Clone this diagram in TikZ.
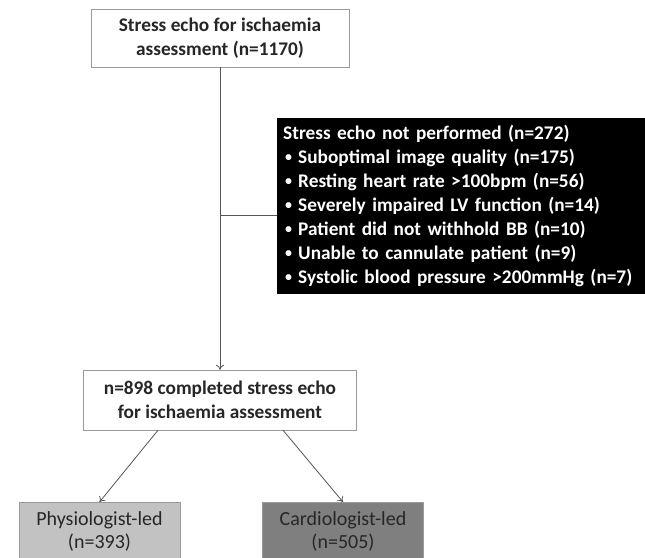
\documentclass[tikz,border=0pt]{standalone}
\usepackage{fontspec}
\setmainfont{Carlito}
\usetikzlibrary{arrows.meta}
\definecolor{boxline}{HTML}{9A9A9A}
\definecolor{linegray}{HTML}{555555}
\definecolor{physiofill}{HTML}{C2C2C2}
\definecolor{cardiofill}{HTML}{7F7F7F}
\newcommand{\exclitem}{\makebox[15pt][l]{\hspace{2pt}\raisebox{1.6pt}{\fontsize{14}{14}\selectfont\textbullet}}}
\begin{document}
\begin{tikzpicture}[x=1pt,y=-1pt,
  flowbox/.style={draw=boxline, fill=white, align=center, inner sep=0pt,
    font=\bfseries\fontsize{19.3}{24}\selectfont, text=black!85},
  exclbox/.style={fill=black, text=white, align=left, text width=366pt,
    inner xsep=6pt, inner ysep=7pt, font=\bfseries\fontsize{19.3}{24}\selectfont},
  groupbox/.style={draw=boxline, align=center, inner sep=0pt,
    minimum width=161pt, minimum height=58pt,
    font=\fontsize{20}{23}\selectfont, text=black!85},
  link/.style={draw=linegray, line width=0.8pt},
  flowarrow/.style={link, -{To[length=5pt,width=8pt]}}]
\clip (0,0) rectangle (645,557);
\fill[white] (0,0) rectangle (645,557);
% boxes
\node[flowbox, minimum width=258pt, minimum height=58pt] (screen) at (220,38)
  {Stress echo for ischaemia\\assessment (n=1170)};
\node[exclbox, anchor=north west] (excl) at (277,118)
  {Stress echo not performed (n=272)\\
   \exclitem Suboptimal image quality (n=175)\\
   \exclitem Resting heart rate >100bpm (n=56)\\
   \exclitem Severely impaired LV function (n=14)\\
   \exclitem Patient did not withhold BB (n=10)\\
   \exclitem Unable to cannulate patient (n=9)\\
   \exclitem Systolic blood pressure >200mmHg (n=7)};
\node[flowbox, minimum width=273pt, minimum height=60pt] (done) at (220,400)
  {n=898 completed stress echo\\for ischaemia assessment};
\node[groupbox, fill=physiofill, anchor=north] (physio) at (99.5,502)
  {Physiologist-led\\(n=393)};
\node[groupbox, fill=cardiofill, anchor=north] (cardio) at (343,502)
  {Cardiologist-led\\(n=505)};
% connectors
\coordinate (branch) at (220,215);
\draw[flowarrow] (screen.south) -- (done.north);
\draw[link] (branch) -- (branch -| excl.west);
\draw[flowarrow] ([xshift=-62pt]done.south) -- (physio.north);
\draw[flowarrow] ([xshift=63pt]done.south) -- (cardio.north);
\end{tikzpicture}
\end{document}
